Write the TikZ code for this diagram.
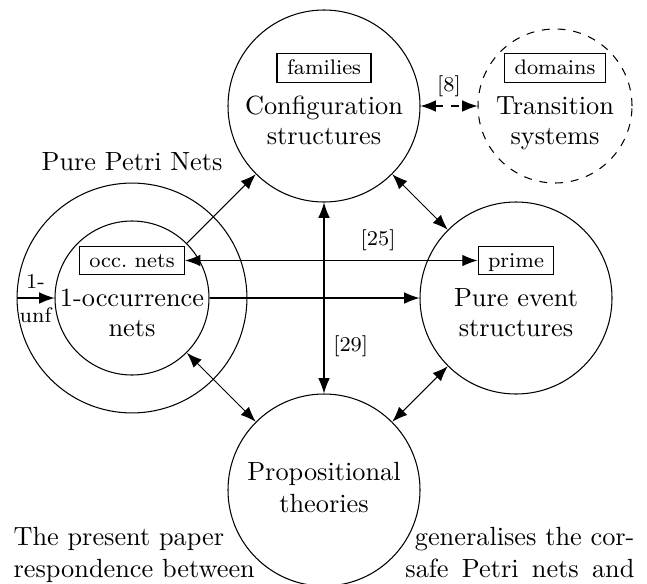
\documentclass[tikz,border=0pt]{standalone}
\usetikzlibrary{arrows.meta}
\begin{document}
\begin{tikzpicture}[x=0.3802pt,y=-0.3802pt,
  big/.style={circle,draw,minimum size=73pt,inner sep=0pt},
  mid/.style={circle,draw,minimum size=58.55pt,inner sep=0pt},
  outer/.style={circle,draw,minimum size=87.4pt,inner sep=0pt},
  tag/.style={draw,font=\footnotesize,inner xsep=3.8pt,inner ysep=2.3pt,text height=5.6pt,text depth=0.6pt},
  txt/.style={anchor=base,inner sep=0pt},
  lbl/.style={font=\footnotesize},
  arr/.style={-{Latex[length=5.8pt,width=4.4pt]}},
  darr/.style={{Latex[length=5.8pt,width=4.4pt]}-{Latex[length=5.8pt,width=4.4pt]}},
]
\useasboundingbox (0,0) rectangle (647,583);
% circles
\node[big] (conf) at (324,106) {};
\node[big] (pes) at (516,298) {};
\node[big] (prop) at (324,490) {};
\node[outer] (pure) at (132,298) {};
\node[mid] (occ) at (132,298) {};
\node[mid,dashed] (ts) at (555,106) {};
% boxes
\node[tag] (fam) at (324,68) {families};
\node[tag] (dom) at (555,68) {domains};
\node[tag] (occbox) at (132,260.5) {occ.\ nets};
\node[tag] (prime) at (516,260.5) {prime};
% texts
\node[txt] (conf1) at (324,114) {Configuration};
\node[txt] (conf2) at (324,144) {structures};
\node[txt] (ts1) at (555,114) {Transition};
\node[txt] (ts2) at (555,144) {systems};
\node[txt] (pes1) at (516,306) {Pure event};
\node[txt] (pes2) at (516,336) {structures};
\node[txt] (occ1) at (132,306) {1-occurrence};
\node[txt] (occ2) at (132,336) {nets};
\node[txt] (prop1) at (324,480) {Propositional};
\node[txt] (prop2) at (324,512) {theories};
\node[txt] (puretitle) at (132,170) {Pure Petri Nets};
% connectors
\draw[darr,dashed] (conf) -- node[lbl,above] (l8) {[8]} (ts);
\draw[darr] (conf) -- (pes);
\draw[arr] (occ) -- (conf);
\draw[darr] (occbox) -- node[lbl,above,pos=0.66] (l25) {[25]} (prime);
\draw[arr] (occ) -- (pes);
\draw[darr] (conf) -- node[lbl,right,pos=0.75] (l29) {[29]} (prop);
\draw[darr] (occ) -- (prop);
\draw[darr] (pes) -- (prop);
\draw[arr] (pure.west) -- node[lbl,above] (l1) {1-} node[lbl,below] (lunf) {unf} (occ.west);
% surrounding paragraph text
\node[txt,anchor=base west] (p1) at (13,545.5) {The present paper};
\node[txt,anchor=base west] (p2) at (13,577) {respondence between};
\node[txt,anchor=base east] (p3) at (635,545.5) {generalises the cor-};
\node[txt,anchor=base east] (p4) at (635,577) {\makebox[87.1pt][s]{safe Petri nets and}};
\end{tikzpicture}
\end{document}
